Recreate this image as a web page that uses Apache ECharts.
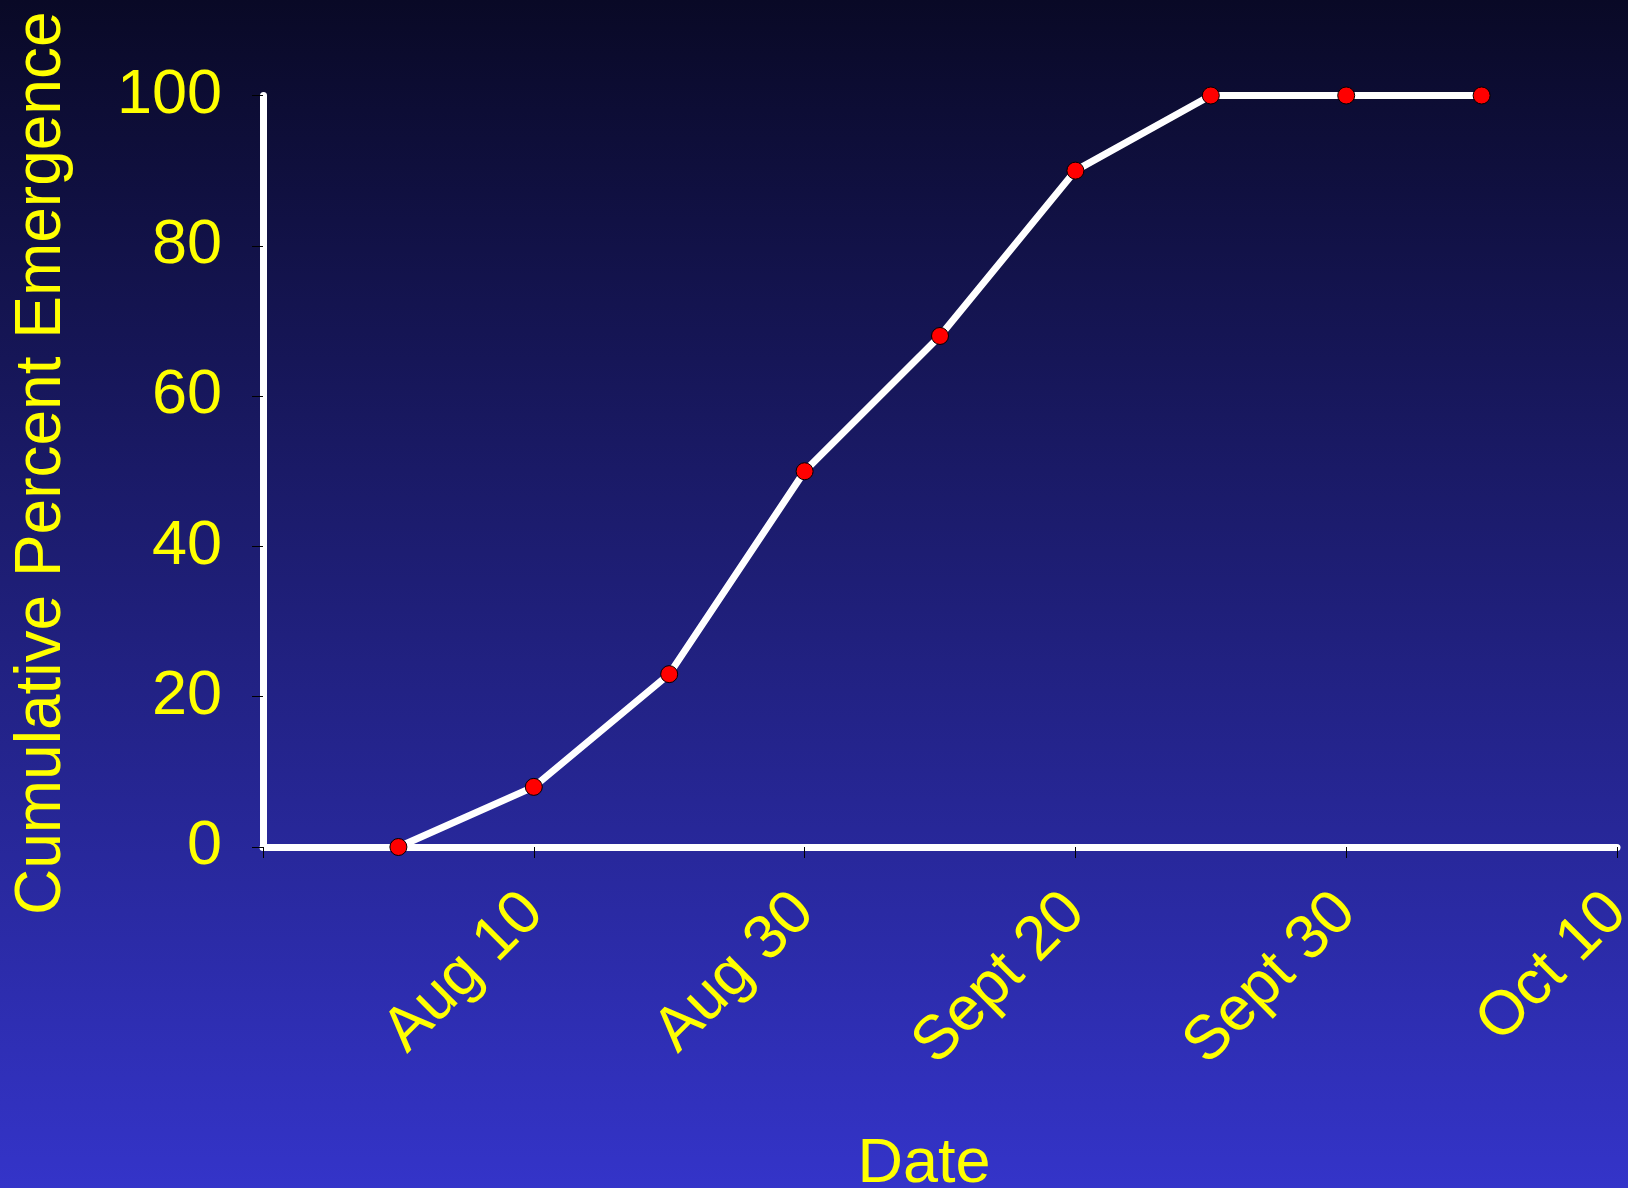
<!DOCTYPE html>
<html>
<head>
<meta charset="utf-8">
<script src="https://cdn.jsdelivr.net/npm/echarts@6/dist/echarts.min.js"></script>
<style>
html,body{margin:0;padding:0;background:#000;}
#chart{width:1628px;height:1188px;}
</style>
</head>
<body>
<div id="chart"></div>
<script>
// Tick labels along the x axis (one per major tick, first tick unlabeled)
const xTickLabels = ['', 'Aug 10', 'Aug 30', 'Sept 20', 'Sept 30', 'Oct 10'];
// Point positions on the x axis (in tick-half units) and cumulative emergence values
const xPositions = [1, 2, 3, 4, 5, 6, 7, 8, 9];
const emergence = [0, 8, 23, 50, 68, 90, 100, 100, 100];
const yTicks = [0, 20, 40, 60, 80, 100];

const chart = echarts.init(document.getElementById('chart'));
const FONT = '"Liberation Sans", Arial, sans-serif';
const YELLOW = '#ffff00';

chart.setOption({
  animation: false,
  backgroundColor: {
    type: 'linear', x: 0, y: 0, x2: 0, y2: 1,
    colorStops: [
      { offset: 0, color: '#090926' },
      { offset: 1, color: '#3434c9' }
    ]
  },
  grid: { left: 263, right: 11, top: 95.5, bottom: 341, containLabel: false, outerBoundsMode: 'none' },
  xAxis: {
    type: 'value',
    min: 0, max: 10, interval: 2,
    name: 'Date',
    nameLocation: 'middle',
    nameGap: 280,
    nameTextStyle: { color: YELLOW, fontSize: 63, fontFamily: FONT, padding: [6, 32, 0, 0] },
    axisLine: { show: true, onZero: false, lineStyle: { color: '#ffffff', width: 7, cap: 'round' } },
    axisTick: { show: true, length: 11, lineStyle: { color: '#000000', width: 1 } },
    splitLine: { show: false },
    axisLabel: {
      rotate: 45,
      margin: 56,
      color: YELLOW,
      fontSize: 62,
      fontFamily: FONT,
      showMinLabel: true,
      showMaxLabel: true,
      hideOverlap: false,
      formatter: function (v) { return xTickLabels[Math.round(v / 2)] || ''; }
    }
  },
  yAxis: {
    type: 'value',
    min: 0, max: 100, interval: 20,
    name: 'Cumulative Percent Emergence',
    nameLocation: 'middle',
    nameGap: 189,
    nameTextStyle: { color: YELLOW, fontSize: 64, fontFamily: FONT, padding: [0, 0, 0, 16] },
    axisLine: { show: true, lineStyle: { color: '#ffffff', width: 7, cap: 'round' } },
    axisTick: { show: true, length: 11, lineStyle: { color: '#000000', width: 1 } },
    splitLine: { show: false },
    axisLabel: {
      margin: 41,
      color: YELLOW,
      fontSize: 63,
      fontFamily: FONT,
      formatter: function (v) { return yTicks.indexOf(v) >= 0 ? String(v) : ''; }
    }
  },
  series: [{
    type: 'line',
    data: xPositions.map((x, i) => [x, emergence[i]]),
    lineStyle: { color: '#ffffff', width: 7 },
    symbol: 'circle',
    symbolSize: 17,
    itemStyle: { color: '#ff0000', borderColor: '#000000', borderWidth: 1 },
    emphasis: { disabled: true },
    z: 5
  }]
});
</script>
</body>
</html>
